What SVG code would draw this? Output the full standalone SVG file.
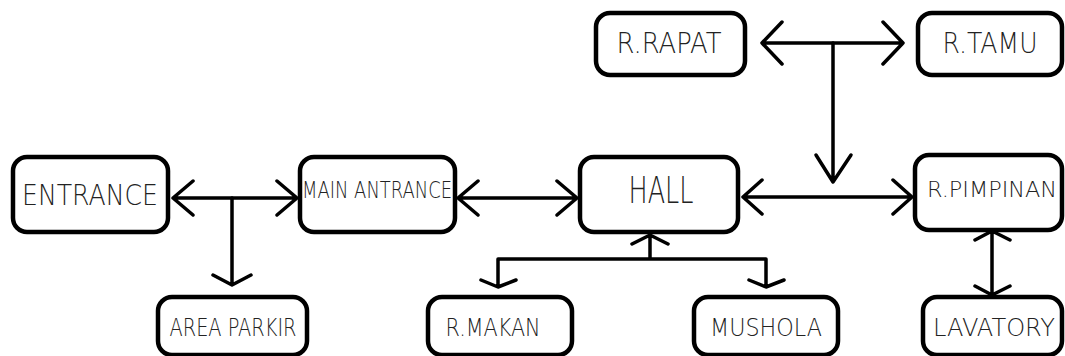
<svg xmlns="http://www.w3.org/2000/svg" width="1065" height="356" viewBox="0 0 1065 356">
<style>
.box{fill:#fff;stroke:#000;stroke-width:4.5}
.t{font-family:"DejaVu Sans","Liberation Sans",Arial,sans-serif;font-weight:200;fill:#222;text-anchor:middle}
.c{fill:none;stroke:#000;stroke-width:3.5;stroke-linecap:round;stroke-linejoin:round}
</style>
<rect width="1065" height="356" fill="#fff"/>
<g id="connectors">
<path class="c" d="M173,198 H297 M193,181 L173,198 L193,215 M277,181 L297,198 L277,215"/>
<path class="c" d="M232,198 V285 M213,275 L232,285 L251,275"/>
<path class="c" d="M458,198 H577 M478,181 L458,198 L478,215 M557,181 L577,198 L557,215"/>
<path class="c" d="M743,197 H912 M762,180 L743,197 L762,214 M893,180 L912,197 L893,214"/>
<path class="c" d="M762,43 H903 M782,22 L762,43 L782,64 M883,22 L903,43 L883,64"/>
<path class="c" d="M833,43 V182 M816,155 L833,182 L851,155"/>
<path class="c" d="M650,235 V259 M632,244 L650,235 L668,244 M498,259 H766 M498,259 V287 M481,280 L498,287 L516,280 M766,259 V287 M749,280 L766,287 L784,280"/>
<path class="c" d="M992,231 V295 M975,240 L992,231 L1010,240 M975,286 L992,295 L1010,286"/>
</g>
<g id="n-entrance"><rect class="box" x="13" y="157" width="155" height="75" rx="14"/><text class="t" x="90" y="205" font-size="28" textLength="136" lengthAdjust="spacingAndGlyphs">ENTRANCE</text></g>
<g id="n-main"><rect class="box" x="300" y="157" width="155" height="75" rx="14"/><text class="t" x="377" y="198" font-size="23" textLength="150" lengthAdjust="spacingAndGlyphs">MAIN ANTRANCE</text></g>
<g id="n-hall"><rect class="box" x="580" y="157" width="158" height="75" rx="14"/><text class="t" x="661" y="203" font-size="37" textLength="65" lengthAdjust="spacingAndGlyphs">HALL</text></g>
<g id="n-pimpinan"><rect class="box" x="915" y="155" width="147" height="75" rx="14"/><text class="t" x="992" y="197" font-size="21" textLength="130" lengthAdjust="spacingAndGlyphs">R.PIMPINAN</text></g>
<g id="n-rapat"><rect class="box" x="596" y="13" width="149" height="62" rx="14"/><text class="t" x="669" y="53" font-size="28" textLength="105" lengthAdjust="spacingAndGlyphs">R.RAPAT</text></g>
<g id="n-tamu"><rect class="box" x="918" y="13" width="144" height="62" rx="14"/><text class="t" x="990" y="53" font-size="28" textLength="95" lengthAdjust="spacingAndGlyphs">R.TAMU</text></g>
<g id="n-parkir"><rect class="box" x="158" y="297" width="149" height="58" rx="14"/><text class="t" x="233" y="336" font-size="24" textLength="127" lengthAdjust="spacingAndGlyphs">AREA PARKIR</text></g>
<g id="n-makan"><rect class="box" x="428" y="297" width="144" height="58" rx="14"/><text class="t" x="493" y="336" font-size="24" textLength="95" lengthAdjust="spacingAndGlyphs">R.MAKAN</text></g>
<g id="n-mushola"><rect class="box" x="694" y="297" width="144" height="58" rx="14"/><text class="t" x="766" y="336" font-size="24" textLength="112" lengthAdjust="spacingAndGlyphs">MUSHOLA</text></g>
<g id="n-lavatory"><rect class="box" x="923" y="297" width="139" height="58" rx="14"/><text class="t" x="994" y="336" font-size="24" textLength="122" lengthAdjust="spacingAndGlyphs">LAVATORY</text></g>
</svg>
